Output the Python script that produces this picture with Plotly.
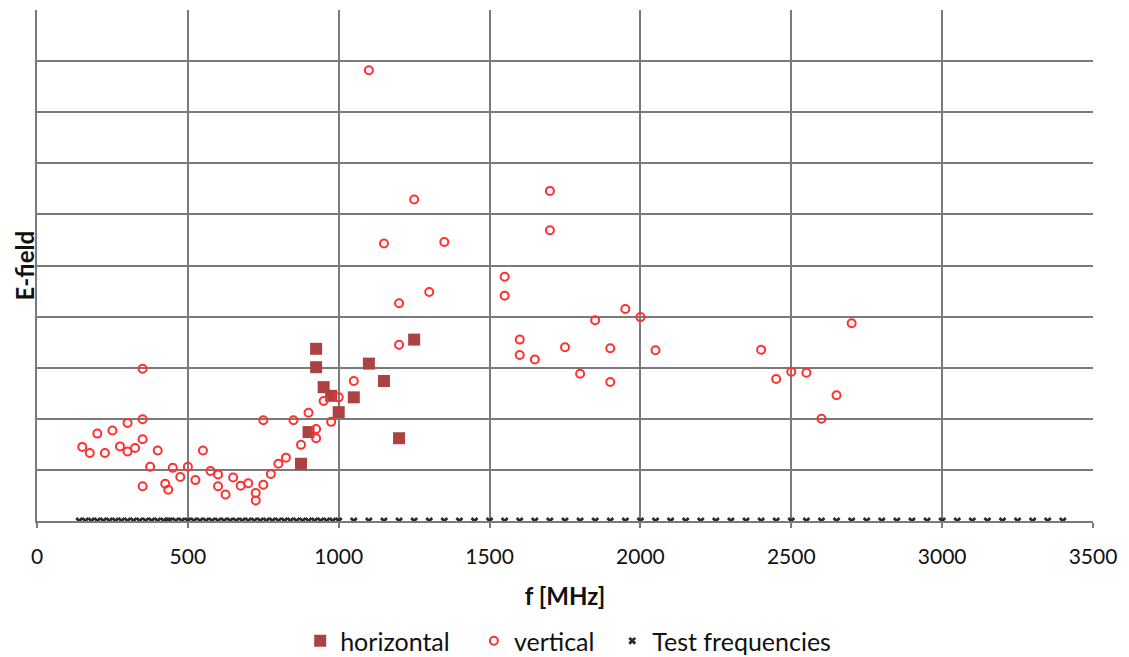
import plotly.graph_objects as go

# horizontal polarisation
h_freq = [875, 900, 925, 925, 950, 975, 1000, 1050, 1100, 1150, 1200, 1250]
h_field = [1.12, 1.74, 3.37, 3.01, 2.62, 2.45, 2.13, 2.42, 3.08, 2.74, 1.62, 3.55]

# vertical polarisation
v_freq = [150, 175, 200, 225, 250, 275, 300, 300, 325, 350, 350, 350, 350, 375, 400,
          425, 435, 450, 475, 500, 525, 550, 575, 600, 600, 625, 650, 675, 700, 725,
          725, 750, 750, 775, 800, 825, 850, 875, 900, 925, 925, 950, 975, 1000, 1050,
          1100, 1150, 1200, 1200, 1250, 1300, 1350, 1550, 1550, 1600, 1600, 1650, 1700,
          1700, 1750, 1800, 1850, 1900, 1900, 1950, 2000, 2050, 2400, 2450, 2500, 2550,
          2600, 2650, 2700]
v_field = [1.45, 1.33, 1.71, 1.33, 1.77, 1.46, 1.92, 1.36, 1.43, 2.98, 1.99, 1.60, 0.68, 1.06, 1.38,
           0.73, 0.61, 1.04, 0.86, 1.06, 0.80, 1.38, 0.98, 0.91, 0.68, 0.52, 0.85, 0.69, 0.74, 0.55,
           0.40, 0.71, 1.97, 0.92, 1.12, 1.24, 1.97, 1.49, 2.12, 1.80, 1.62, 2.35, 1.94, 2.42, 2.74,
           8.82, 5.43, 4.26, 3.45, 6.29, 4.48, 5.46, 4.78, 4.41, 3.55, 3.25, 3.16, 6.46,
           5.69, 3.40, 2.88, 3.93, 3.38, 2.72, 4.15, 3.99, 3.34, 3.35, 2.78, 2.92, 2.90,
           2.00, 2.46, 3.87]

# test frequencies
test_freq = [140, 160, 180, 200, 220, 240, 260, 280, 300, 320, 340, 360, 380, 400, 420, 433,
             440, 460, 480, 500, 520, 540, 560, 580, 600, 620, 640, 660, 680, 700, 720, 740,
             760, 780, 800, 820, 840, 860, 880, 900, 920, 940, 960, 980, 1000,
             1050, 1100, 1150, 1200, 1250, 1300, 1350, 1400, 1450, 1500, 1550, 1600, 1650,
             1700, 1750, 1800, 1850, 1900, 1950, 2000, 2050, 2100, 2150, 2200, 2250, 2300,
             2350, 2400, 2450, 2500, 2550, 2600, 2650, 2700, 2750, 2800, 2850, 2900, 2950,
             3000, 3050, 3100, 3150, 3200, 3250, 3300, 3350, 3400]
test_field = [0] * len(test_freq)

x_ticks = [0, 500, 1000, 1500, 2000, 2500, 3000, 3500]
x_title = "f [MHz]"
y_title = "E-field"
series_names = ["horizontal", "vertical", "Test frequencies"]

FONT = "Lato, 'Open Sans', sans-serif"
GRID = "#7a7a7a"
W, H = 1129, 657
ML, MR, MT, MB = 37, 36, 10, 136
PAD3 = "\u00a0\u00a0\u00a0"
PAD2 = "\u00a0\u00a0"

fig = go.Figure()
fig.add_trace(go.Scatter(
    x=h_freq, y=h_field, mode="markers", name=series_names[0] + PAD3,
    marker=dict(symbol="square", size=12, color="#ac4242"),
))
fig.add_trace(go.Scatter(
    x=v_freq, y=v_field, mode="markers", name=series_names[1] + PAD2,
    marker=dict(symbol="circle-open", size=8, color="#ff3030", line=dict(width=2)),
))
fig.add_trace(go.Scatter(
    x=test_freq, y=test_field, mode="markers", name=series_names[2],
    marker=dict(symbol="x", size=7, color="#2a2a2a", line=dict(width=0)),
))

plot_w = W - ML - MR
fig.add_annotation(
    text="<b>" + y_title + "</b>", xref="paper", yref="paper",
    x=(24 - ML) / plot_w, y=0.5, xanchor="center", yanchor="middle",
    textangle=-90, showarrow=False, font=dict(size=24, color="#111111"),
)

fig.update_layout(
    width=W, height=H,
    margin=dict(l=ML, r=MR, t=MT, b=MB, autoexpand=False),
    paper_bgcolor="white", plot_bgcolor="white",
    font=dict(family=FONT, size=21, color="#111111"),
    showlegend=True,
    legend=dict(orientation="h", x=0.503, xanchor="center", y=-0.235, yanchor="middle",
                font=dict(size=25), itemwidth=30, traceorder="normal"),
    xaxis=dict(
        range=[0, 3500], tickvals=x_ticks, ticktext=[str(t) for t in x_ticks],
        showgrid=True, gridcolor=GRID, gridwidth=1.5,
        showline=True, linecolor=GRID, linewidth=1.5,
        ticks="outside", ticklen=5, tickcolor=GRID, tickwidth=1.5,
        zeroline=False, automargin=False, ticklabelstandoff=11,
        title=dict(text="<b>" + x_title + "</b>", font=dict(size=24), standoff=21),
        tickfont=dict(size=21),
    ),
    yaxis=dict(
        range=[0, 10], dtick=1, showticklabels=False,
        showgrid=True, gridcolor=GRID, gridwidth=1.5,
        showline=True, linecolor=GRID, linewidth=1.5,
        zeroline=False, ticks="", automargin=False,
    ),
)

fig.write_html("out.html", config={"displayModeBar": False},
               post_script="document.body.style.margin='0';")
